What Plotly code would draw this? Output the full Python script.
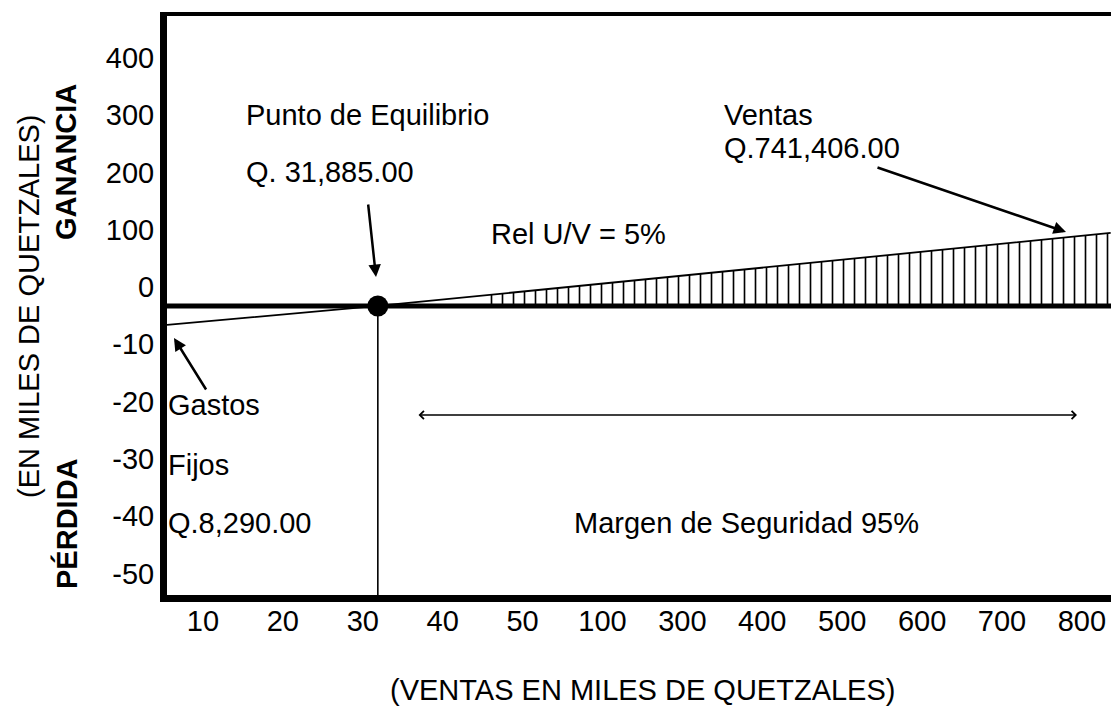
import numpy as np
import plotly.graph_objects as go

# ---- data (miles de quetzales) ----
x_ticks = [10, 20, 30, 40, 50, 100, 300, 400, 500, 600, 700, 800]
x_labels = [str(v) for v in x_ticks]
y_ticks = [-50, -40, -30, -20, -10, 0, 100, 200, 300, 400]
y_labels = [str(v) for v in y_ticks]

ventas_linea = [5.5, 31.885, 836]        # ventas along the result line
resultado_linea = [-3.3, 0, 127.4]       # drawn result (ganancia / pérdida)
punto_equilibrio = 31.885
inicio_rayado = 45                       # start of hatched profit zone


def to_pos(v, ticks):
    idx = np.arange(len(ticks), dtype=float)
    t = np.asarray(ticks, dtype=float)
    if v < t[0]:
        return (v - t[0]) / (t[1] - t[0])
    if v > t[-1]:
        return idx[-1] + (v - t[-1]) / (t[-1] - t[-2])
    return float(np.interp(v, t, idx))


xp = lambda v: to_pos(v, x_ticks)
yp = lambda v: to_pos(v, y_ticks)

lx = [xp(v) for v in ventas_linea]
ly = [yp(v) for v in resultado_linea]
y_zero = yp(0)
be_x = xp(punto_equilibrio)

hx0 = xp(inicio_rayado)
hx1 = lx[-1]
htop0 = float(np.interp(hx0, lx[1:], ly[1:]))

FONT = "Liberation Sans, Arial, sans-serif"
FS = 29
XR = [-0.45, 11.364]
YR = [-0.044, 10.06]

fig = go.Figure()

# hatched profit area
fig.add_trace(go.Scatter(x=[hx0, hx1], y=[y_zero, y_zero], mode="lines",
                         line=dict(width=0, color="black"), showlegend=False,
                         hoverinfo="skip"))
fig.add_trace(go.Scatter(x=[hx0, hx1], y=[htop0, ly[-1]], mode="lines",
                         line=dict(width=0, color="black"), fill="tonexty",
                         fillcolor="white",
                         fillpattern=dict(shape="|", size=11, solidity=0.15,
                                          fgcolor="black", bgcolor="white",
                                          fillmode="replace"),
                         showlegend=False, hoverinfo="skip"))

# result line
fig.add_trace(go.Scatter(x=lx, y=ly, mode="lines",
                         line=dict(color="black", width=1.8),
                         showlegend=False))

# zero line
fig.add_shape(type="line", xref="paper", yref="y", x0=0, x1=1,
              y0=y_zero, y1=y_zero, line=dict(color="black", width=5))
# vertical line at break-even
fig.add_shape(type="line", xref="x", yref="y", x0=be_x, x1=be_x,
              y0=YR[0], y1=y_zero, line=dict(color="black", width=1.6))
# top frame line
fig.add_shape(type="line", xref="paper", yref="paper", x0=-7 / 944, x1=1,
              y0=1 + 2 / 579, y1=1 + 2 / 579, line=dict(color="black", width=4))

# break-even point
fig.add_trace(go.Scatter(x=[be_x], y=[y_zero], mode="markers",
                         marker=dict(color="black", size=21),
                         showlegend=False))

W, H = 944, 579
L, B = 167, 595


def px(xpix):
    return (xpix - L) / W


def py(ypix):
    return (B - ypix) / H


def text(t, xpix, ypix, xanchor="left", **kw):
    fig.add_annotation(text=t, x=px(xpix), y=py(ypix), xref="paper",
                       yref="paper", xanchor=xanchor, yanchor="middle",
                       showarrow=False, font=dict(family=FONT, size=FS,
                                                  color="black"), **kw)


def arrow(tail, tip, head=2, width=2.5, size=1.0, side="end"):
    fig.add_annotation(x=px(tip[0]), y=py(tip[1]), xref="paper", yref="paper",
                       ax=tail[0] - tip[0], ay=tail[1] - tip[1],
                       axref="pixel", ayref="pixel", text="", showarrow=True,
                       arrowhead=head, arrowwidth=width, arrowsize=size,
                       arrowside=side, arrowcolor="black",
                       startarrowhead=head, startarrowsize=size)


text("Punto de Equilibrio", 244, 115)
text("Q. 31,885.00", 244, 172)
text("Rel U/V = 5%", 489, 234)
text("Ventas", 722, 115)
text("Q.741,406.00", 722, 148)
text("Gastos", 166, 405)
text("Fijos", 166, 465)
text("Q.8,290.00", 166, 523)
text("Margen de Seguridad 95%", 746, 523, xanchor="center")
text("(VENTAS EN MILES DE QUETZALES)", 642, 690, xanchor="center")
text("(EN MILES DE QUETZALES)", 29, 306, xanchor="center", textangle=-90)
text("<b>GANANCIA</b>", 66, 162, xanchor="center", textangle=-90)
text("<b>PÉRDIDA</b>", 66, 524, xanchor="center", textangle=-90)

arrow((368, 203), (376, 277))
arrow((876, 167), (1066, 232))
arrow((207, 391), (174, 338))
arrow((417, 415), (1077, 415), head=4, width=1.6, size=1.0, side="end+start")

fig.update_layout(
    width=1111, height=707,
    margin=dict(l=L, r=0, t=16, b=707 - B),
    plot_bgcolor="white", paper_bgcolor="white",
    font=dict(family=FONT, size=FS, color="black"),
    xaxis=dict(range=XR, tickmode="array",
               tickvals=list(range(len(x_ticks))), ticktext=x_labels,
               showgrid=False, zeroline=False, showline=True, linewidth=7,
               linecolor="black", ticks="", tickfont=dict(size=FS),
               ticklabelstandoff=-6),
    yaxis=dict(range=YR, tickmode="array",
               tickvals=list(range(len(y_ticks))), ticktext=y_labels,
               showgrid=False, zeroline=False, showline=True, linewidth=7,
               linecolor="black", ticks="", tickfont=dict(size=FS),
               ticklabelshift=-19),
)

fig.write_html(
    "out.html",
    config={"displayModeBar": False},
    post_script="document.body.style.margin='0';"
                "document.body.style.overflow='hidden';",
)
